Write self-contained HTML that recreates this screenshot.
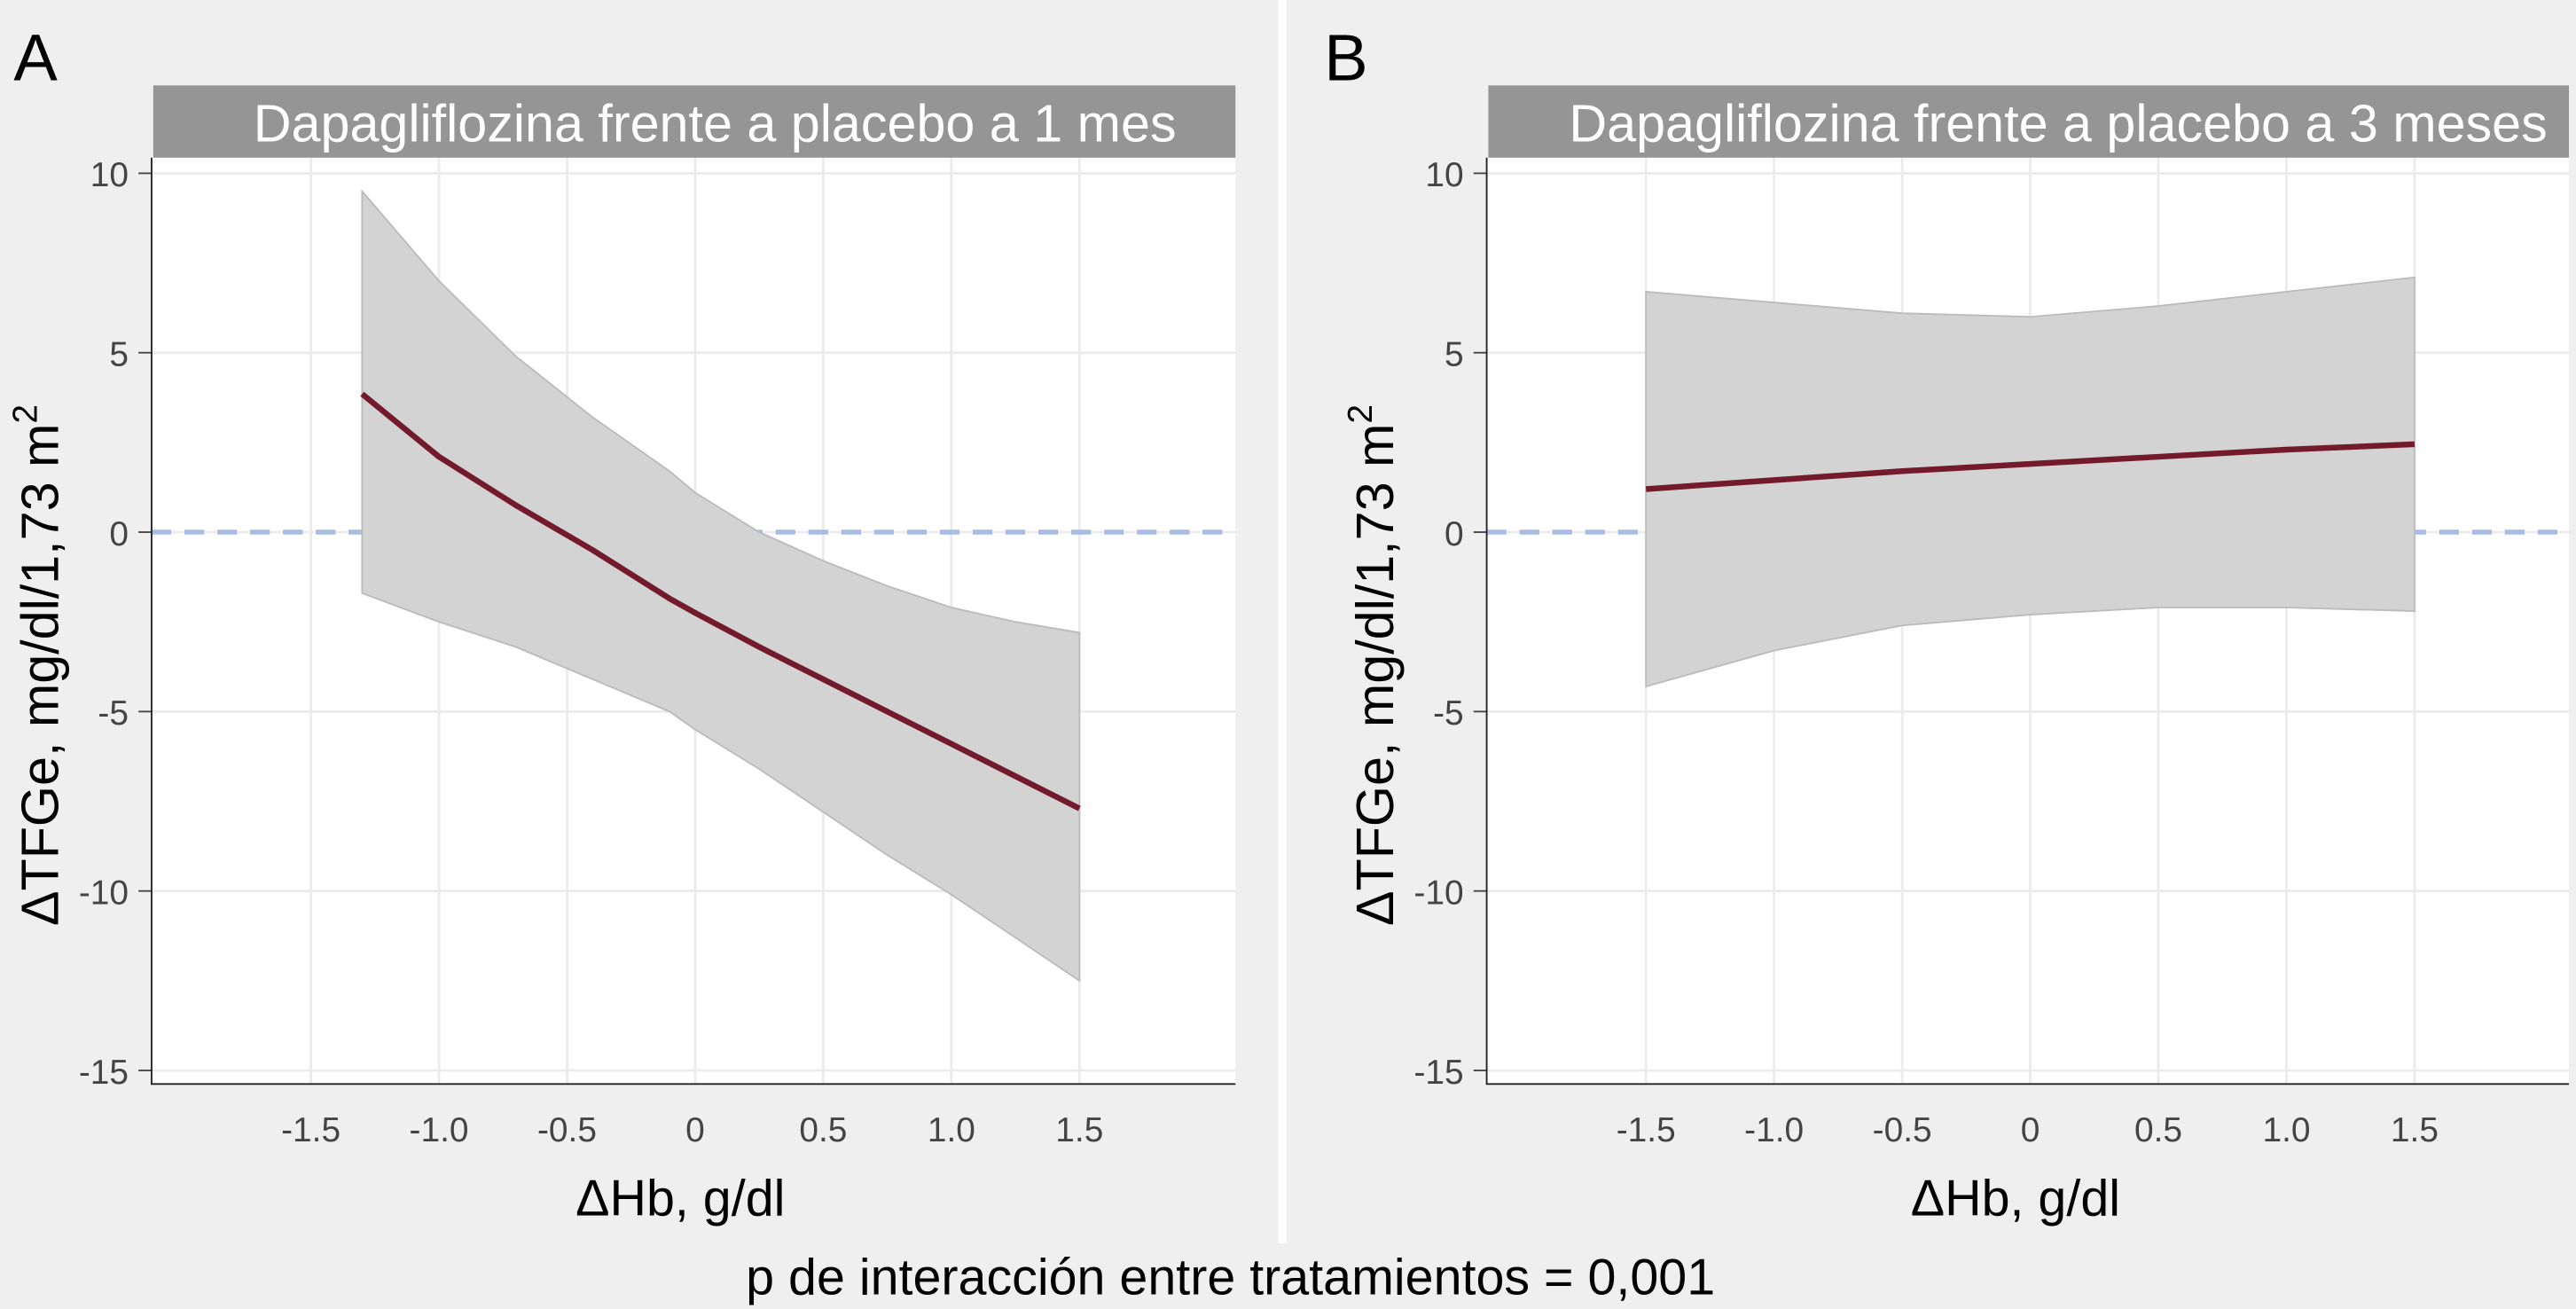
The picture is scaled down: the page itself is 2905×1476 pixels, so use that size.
<!DOCTYPE html>
<html><head><meta charset="utf-8"><style>
html,body{margin:0;padding:0;background:#efefef;}
svg{display:block;font-family:"Liberation Sans",sans-serif;}
</style></head><body>
<svg id="fig" width="2905" height="1476" viewBox="0 0 1568 797">
<rect x="0" y="0" width="1568" height="797" fill="#efefef"/>
<rect x="778" y="0" width="5" height="757" fill="#ffffff"/>
<text x="749" y="788" font-size="31" text-anchor="middle" fill="#000">p de interacción entre tratamientos = 0,001</text>
</svg>
<script>
const xTicks = [-1.5, -1.0, -0.5, 0, 0.5, 1.0, 1.5];
const xTickLabels = ["-1.5","-1.0","-0.5","0","0.5","1.0","1.5"];
const yTicks = [10, 5, 0, -5, -10, -15];
const yTickLabels = ["10","5","0","-5","-10","-15"];
const aX = [-1.3, -1.0, -0.7, -0.4, -0.1, 0, 0.25, 0.5, 0.75, 1.0, 1.25, 1.5];
const aUpper = [9.5, 7.0, 4.9, 3.2, 1.7, 1.1, 0.0, -0.8, -1.5, -2.1, -2.5, -2.8];
const aMean = [3.85, 2.1, 0.75, -0.5, -1.85, -2.25, -3.2, -4.1, -5.0, -5.9, -6.8, -7.7];
const aLower = [-1.7, -2.5, -3.2, -4.1, -5.0, -5.5, -6.6, -7.8, -9.0, -10.1, -11.3, -12.5];
const bX = [-1.5, -1.0, -0.5, 0, 0.5, 1.0, 1.5];
const bUpper = [6.7, 6.4, 6.1, 6.0, 6.3, 6.7, 7.1];
const bMean = [1.2, 1.45, 1.7, 1.9, 2.1, 2.3, 2.45];
const bLower = [-4.3, -3.3, -2.6, -2.3, -2.1, -2.1, -2.2];
const NS = "http://www.w3.org/2000/svg";
const svg = document.getElementById("fig");
function mk(tag, attrs, parent) {
  const e = document.createElementNS(NS, tag);
  for (const k in attrs) e.setAttribute(k, attrs[k]);
  (parent || svg).appendChild(e);
  return e;
}
function panel(cfg) {
  const g = mk("g", {});
  
  
  const L = cfg.left, R = cfg.right, T = 96, B = 660;
  const sx = v => cfg.x0 + v * 156;
  const sy = v => 324 - v * 21.85;
  const plot = mk("rect", {x: L, y: T, width: R - L, height: B - T, fill: "#fff"}, g);
  
  
  yTicks.forEach((t, i) => {
    const gl = mk("line", {x1: L, x2: R, y1: sy(t), y2: sy(t), stroke: "#ebebeb", "stroke-width": 1.5}, g);
    
    
    mk("line", {x1: L - 8, x2: L, y1: sy(t), y2: sy(t), stroke: "#444", "stroke-width": 1}, g);
    const tl = mk("text", {x: L - 14, y: sy(t) + 8, "font-size": 21, fill: "#444", "text-anchor": "end"}, g);
    tl.textContent = yTickLabels[i];
    
    
  });
  xTicks.forEach((t, i) => {
    const gl = mk("line", {x1: sx(t), x2: sx(t), y1: T, y2: B, stroke: "#ebebeb", "stroke-width": 1.5}, g);
    
    
    const tl = mk("text", {x: sx(t), y: 695, "font-size": 21, fill: "#444", "text-anchor": "middle"}, g);
    tl.textContent = xTickLabels[i];
    
    
  });
  const ref = mk("line", {x1: L, x2: R, y1: sy(0), y2: sy(0), stroke: "#a9bde3", "stroke-width": 3, "stroke-dasharray": "12 8"}, g);
  
  
  let d = "";
  cfg.xs.forEach((x, i) => { d += (i ? "L" : "M") + sx(x) + "," + sy(cfg.up[i]); });
  for (let i = cfg.xs.length - 1; i >= 0; i--) d += "L" + sx(cfg.xs[i]) + "," + sy(cfg.lo[i]);
  const band = mk("path", {d: d + "Z", fill: "#d3d3d3", stroke: "#bbb", "stroke-width": 1}, g);
  
  
  let m = "";
  cfg.xs.forEach((x, i) => { m += (i ? "L" : "M") + sx(x) + "," + sy(cfg.mean[i]); });
  const ln = mk("path", {d: m, fill: "none", stroke: "#731a2c", "stroke-width": 3.5, "stroke-linejoin": "round"}, g);
  
  
  const ax = mk("path", {d: `M${L},${T}V${B}H${R}`, fill: "none", stroke: "#222", "stroke-width": 1}, g);
  
  
  const tb = mk("rect", {x: L + 1, y: 52, width: R - L - 1, height: 44, fill: "#959595"}, g);
  
  
  const tt = mk("text", {x: cfg.titleX, y: 86, "font-size": 32, fill: "#fff", "text-anchor": "middle"}, g);
  tt.textContent = cfg.title;
  
  
  const lt = mk("text", {x: cfg.letterX, y: 49, "font-size": 40, fill: "#000"}, g);
  lt.textContent = cfg.letter;
  
  
  const yt = mk("text", {x: 0, y: 0, "font-size": 32, fill: "#000", "text-anchor": "middle", transform: `translate(${L - 57},405) rotate(-90)`}, g);
  yt.innerHTML = 'ΔTFGe, mg/dl/1,73 m<tspan font-size="21" dy="-13">2</tspan>';
  
  
  const xt = mk("text", {x: cfg.x0 - 9, y: 740, "font-size": 31, fill: "#000", "text-anchor": "middle"}, g);
  xt.textContent = "ΔHb, g/dl";
  
  
}
panel({name: "panel-a", letter: "A", letterX: 8, left: 92, right: 752, x0: 423, title: "Dapagliflozina frente a placebo a 1 mes", titleX: 435, xs: aX, up: aUpper, mean: aMean, lo: aLower});
panel({name: "panel-b", letter: "B", letterX: 806, left: 905, right: 1564, x0: 1236, title: "Dapagliflozina frente a placebo a 3 meses", titleX: 1253, xs: bX, up: bUpper, mean: bMean, lo: bLower});
</script>
</body></html>
